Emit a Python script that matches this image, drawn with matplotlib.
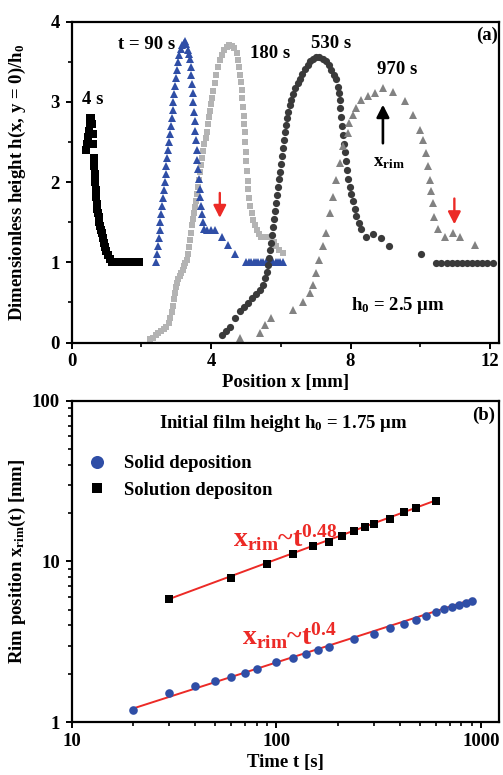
import matplotlib
matplotlib.use('Agg')
import matplotlib.pyplot as plt
from matplotlib.lines import Line2D
from matplotlib.ticker import LogLocator, NullFormatter

# ---------------- data: panel (a) ----------------
t4_x = [0.42, 0.45, 0.48, 0.50, 0.52, 0.54, 0.56, 0.58, 0.60, 0.62,
        0.63, 0.645, 0.66, 0.675, 0.69, 0.705, 0.72, 0.735, 0.75, 0.77, 0.79, 0.81,
        0.835, 0.86, 0.89, 0.92, 0.95, 0.99, 1.04, 1.10, 1.16, 1.23, 1.30, 1.37,
        1.44, 1.51, 1.58, 1.65, 1.72, 1.79, 1.86, 1.93]
t4_y = [2.40, 2.48, 2.56, 2.64, 2.72, 2.80, 2.80, 2.72, 2.60, 2.48,
        2.30, 2.20, 2.10, 2.00, 1.90, 1.81, 1.73, 1.67, 1.62, 1.56, 1.50, 1.45,
        1.40, 1.36, 1.30, 1.24, 1.19, 1.14, 1.09, 1.04, 1.01, 1.00, 1.00, 1.00,
        1.00, 1.00, 1.00, 1.00, 1.00, 1.00, 1.00, 1.00]

t90_x = [2.42, 2.445, 2.47, 2.495, 2.52, 2.545, 2.57, 2.595, 2.62, 2.645, 2.67, 2.695,
         2.72, 2.745, 2.77, 2.795, 2.82, 2.845, 2.87, 2.895, 2.92, 2.945, 2.97, 2.995,
         3.02, 3.05, 3.09, 3.13, 3.17, 3.21, 3.25,
         3.29, 3.33, 3.36, 3.39, 3.41, 3.43, 3.45, 3.47, 3.49, 3.51, 3.53, 3.55, 3.57,
         3.59, 3.61, 3.63, 3.65, 3.67, 3.69, 3.71, 3.73, 3.76, 3.80,
         3.87, 3.99, 4.11, 4.30, 4.49, 4.68,
         5.01, 5.08, 5.15, 5.22, 5.29, 5.36, 5.43, 5.50, 5.57, 5.64, 5.71, 5.78,
         5.85, 5.92, 5.99, 6.05]
t90_y = [1.00, 1.10, 1.20, 1.30, 1.40, 1.50, 1.60, 1.70, 1.80, 1.90, 2.00, 2.10,
         2.20, 2.30, 2.40, 2.50, 2.60, 2.70, 2.80, 2.90, 3.00, 3.10, 3.20, 3.30,
         3.40, 3.50, 3.59, 3.66, 3.71, 3.74, 3.76,
         3.72, 3.65, 3.60, 3.53, 3.43, 3.33, 3.22, 3.11, 3.00, 2.88, 2.76, 2.64, 2.52,
         2.40, 2.28, 2.16, 2.04, 1.92, 1.81, 1.70, 1.60, 1.50, 1.42,
         1.40, 1.40, 1.40, 1.32, 1.21, 1.11,
         1.00, 1.00, 1.00, 1.00, 1.00, 1.00, 1.00, 1.00, 1.00, 1.00, 1.00, 1.00,
         1.00, 1.00, 1.00, 1.00]

t180_x = [2.25, 2.33, 2.41, 2.49, 2.57, 2.65, 2.72, 2.78, 2.83, 2.87, 2.90, 2.93,
          2.96, 2.99, 3.02, 3.06, 3.10, 3.14, 3.18, 3.22, 3.26, 3.30, 3.33, 3.36,
          3.39, 3.42, 3.45, 3.48, 3.51, 3.54, 3.57, 3.60, 3.63, 3.66, 3.69, 3.72,
          3.75, 3.78, 3.81, 3.84, 3.87, 3.90, 3.93, 3.96, 3.99, 4.02, 4.06, 4.10,
          4.15, 4.20, 4.25, 4.31, 4.38, 4.45, 4.52,
          4.60, 4.67, 4.73, 4.77, 4.80, 4.83, 4.86, 4.88, 4.90, 4.92, 4.94, 4.955,
          4.97, 4.985, 5.00, 5.015, 5.03, 5.05, 5.07, 5.10, 5.13, 5.17, 5.21, 5.26,
          5.31, 5.37, 5.44, 5.51, 5.59, 5.66, 5.73, 5.80, 5.87, 5.96, 6.06]
t180_y = [0.04, 0.06, 0.09, 0.12, 0.14, 0.17, 0.19, 0.24, 0.30, 0.38, 0.46, 0.54,
          0.62, 0.69, 0.74, 0.79, 0.83, 0.87, 0.91, 0.95, 0.99, 1.03, 1.10, 1.19,
          1.28, 1.37, 1.46, 1.54, 1.62, 1.69, 1.76, 1.85, 1.94, 2.03, 2.12, 2.21,
          2.30, 2.39, 2.47, 2.55, 2.63, 2.72, 2.81, 2.89, 2.97, 3.05, 3.14, 3.23,
          3.33, 3.43, 3.52, 3.59, 3.65, 3.69, 3.71,
          3.70, 3.67, 3.61, 3.52, 3.43, 3.34, 3.25, 3.15, 3.05, 2.94, 2.83, 2.72,
          2.62, 2.50, 2.38, 2.26, 2.14, 2.02, 1.91, 1.80, 1.70, 1.61, 1.53, 1.46,
          1.40, 1.35, 1.32, 1.31, 1.31, 1.31, 1.31, 1.25, 1.20, 1.16, 1.12]

t530_x = [4.30, 4.42, 4.54, 4.68, 4.82, 4.94, 5.06, 5.18, 5.30, 5.40, 5.49,
          5.56, 5.61, 5.64, 5.67, 5.70, 5.73, 5.76, 5.79, 5.81, 5.83, 5.86, 5.88,
          5.91, 5.94, 5.97, 6.00, 6.03, 6.06, 6.09, 6.12, 6.15, 6.18, 6.22, 6.26,
          6.30, 6.36, 6.42, 6.48, 6.55, 6.62, 6.69, 6.77, 6.85, 6.93, 7.02, 7.11,
          7.20, 7.31, 7.39, 7.45, 7.52, 7.59, 7.63, 7.66, 7.69, 7.71, 7.74, 7.76,
          7.78, 7.81, 7.84, 7.87, 7.90, 7.94, 7.98, 8.02, 8.07, 8.12, 8.17, 8.23,
          8.31, 8.45, 8.64, 8.88, 9.10, 10.03,
          10.46, 10.61, 10.76, 10.90, 11.05, 11.20, 11.34, 11.49, 11.64, 11.78,
          11.93, 12.08]
t530_y = [0.10, 0.15, 0.20, 0.30, 0.39, 0.44, 0.49, 0.55, 0.60, 0.66, 0.72,
          0.80, 0.88, 0.97, 1.06, 1.15, 1.24, 1.34, 1.44, 1.54, 1.64, 1.74, 1.84,
          1.94, 2.04, 2.13, 2.23, 2.33, 2.43, 2.53, 2.62, 2.71, 2.80, 2.88, 2.96,
          3.03, 3.10, 3.17, 3.23, 3.29, 3.35, 3.41, 3.46, 3.51, 3.54, 3.56, 3.56,
          3.54, 3.51, 3.46, 3.40, 3.34, 3.28, 3.19, 3.11, 3.03, 2.92, 2.81, 2.70,
          2.59, 2.48, 2.37, 2.26, 2.15, 2.04, 1.94, 1.85, 1.77, 1.67, 1.58, 1.49,
          1.41, 1.32, 1.35, 1.30, 1.20, 1.11,
          0.99, 0.99, 0.99, 0.99, 0.99, 0.99, 0.99, 0.99, 0.99, 0.99,
          0.99, 0.99]

t970_x = [4.82, 5.40, 5.54, 5.73, 6.35, 6.64, 6.83, 6.92, 7.02, 7.11, 7.21, 7.31,
          7.40, 7.50, 7.59, 7.69, 7.78, 7.93, 7.97, 8.07, 8.17, 8.31, 8.50, 8.69,
          8.93, 9.21, 9.55, 9.79, 9.98, 10.07, 10.17, 10.22, 10.27, 10.32, 10.36,
          10.41, 10.50, 10.70, 10.93, 11.13, 11.56]
t970_y = [0.06, 0.12, 0.22, 0.31, 0.41, 0.51, 0.62, 0.72, 0.87, 1.03, 1.20, 1.37,
          1.62, 1.82, 2.03, 2.24, 2.45, 2.61, 2.74, 2.84, 2.92, 3.03, 3.07, 3.11,
          3.17, 3.12, 3.01, 2.84, 2.65, 2.53, 2.36, 2.20, 2.03, 1.89, 1.74,
          1.57, 1.41, 1.32, 1.37, 1.32, 1.21]

# ---------------- data: panel (b) ----------------
sol_t = [30, 60, 90, 120, 150, 180, 210, 240, 270, 300, 360, 420, 480, 600]
sol_x = [5.82, 7.88, 9.68, 11.1, 12.4, 13.3, 14.4, 15.4, 16.3, 17.1, 18.5, 20.2, 21.5, 23.8]
solid_t = [20, 30, 40, 50, 60, 70, 80, 100, 120, 140, 160, 180, 240, 300, 360,
           420, 480, 540, 600, 660, 720, 780, 840, 900]
solid_x = [1.19, 1.52, 1.67, 1.80, 1.90, 2.03, 2.16, 2.36, 2.51, 2.66, 2.82, 2.95,
           3.28, 3.54, 3.84, 4.08, 4.33, 4.60, 4.82, 5.06, 5.23, 5.38, 5.54, 5.70]
fit_sol_t = [30, 600]
fit_sol_x = [5.85, 24.0]
fit_solid_t = [20, 920]
fit_solid_x = [1.22, 5.85]

a_xticks = [0, 4, 8, 12]
a_yticks = [0, 1, 2, 3, 4]
b_xticks = [10, 100, 1000]
b_xticklabels = ['10', '100', '1000']
b_yticks = [1, 10, 100]
b_yticklabels = ['1', '10', '100']

RED = '#ec2a26'
BLUE = '#2f4ea6'
FS = 13.5

plt.rcParams.update({
    'font.family': ['Liberation Serif', 'DejaVu Serif'],
    'font.weight': 'bold',
    'axes.labelweight': 'bold',
    'font.size': FS,
    'mathtext.fontset': 'custom',
    'mathtext.rm': 'Liberation Serif:bold',
    'mathtext.bf': 'Liberation Serif:bold',
    'mathtext.it': 'Liberation Serif:bold',
    'mathtext.default': 'bf',
    'axes.linewidth': 1.6,
    'xtick.major.width': 1.4, 'ytick.major.width': 1.4,
    'xtick.minor.width': 1.2, 'ytick.minor.width': 1.2,
    'xtick.major.size': 4.5, 'ytick.major.size': 4.5,
    'xtick.minor.size': 2.8, 'ytick.minor.size': 2.8,
    'xtick.major.pad': 3, 'ytick.major.pad': 4,
})

fig = plt.figure(figsize=(5.03, 7.75), dpi=100)
axa = fig.add_axes([0.1425, 0.558, 0.8495, 0.414])
axb = fig.add_axes([0.1425, 0.068, 0.8495, 0.415])

# ---------- panel (a) ----------
axa.plot(t4_x, t4_y, 's', color='black', ms=5.2, mew=0)
axa.plot(t180_x, t180_y, 's', color='#b3b3b3', ms=5.0, mew=0)
axa.plot(t90_x, t90_y, '^', color=BLUE, ms=5.2, mew=0)
axa.plot(t530_x, t530_y, 'o', color='#3a3a3a', ms=5.2, mew=0)
axa.plot(t970_x, t970_y, '^', color='#828282', ms=5.2, mew=0)

axa.set_xlim(0, 12.26)
axa.set_ylim(0, 4)
axa.set_xticks(a_xticks)
axa.set_xticks([2, 6, 10], minor=True)
axa.set_yticks(a_yticks)
axa.set_yticks([0.5, 1.5, 2.5, 3.5], minor=True)
axa.set_xlabel('Position x [mm]', fontsize=FS, labelpad=3)
axa.set_ylabel('Dimensionless height h(x, y = 0)/h$_0$', fontsize=FS)
axa.yaxis.set_label_coords(-0.103, 0.5)

axa.text(0.60, 3.03, '4 s', ha='center', va='center', fontsize=FS)
axa.text(2.15, 3.71, 't = 90 s', ha='center', va='center', fontsize=FS)
axa.text(5.68, 3.60, '180 s', ha='center', va='center', fontsize=FS)
axa.text(7.45, 3.73, '530 s', ha='center', va='center', fontsize=FS)
axa.text(9.35, 3.40, '970 s', ha='center', va='center', fontsize=FS)
axa.text(9.35, 0.46, 'h$_0$ = 2.5 μm', ha='center', va='center', fontsize=FS)
axa.text(0.971, 0.958, '(a)', transform=axa.transAxes, ha='center', va='center', fontsize=FS)

axa.annotate('', xy=(4.25, 1.52), xytext=(4.25, 1.90),
             arrowprops=dict(arrowstyle='-|>,head_width=0.28,head_length=0.55', color=RED, lw=1.7))
axa.annotate('', xy=(10.98, 1.44), xytext=(10.98, 1.83),
             arrowprops=dict(arrowstyle='-|>,head_width=0.28,head_length=0.55', color=RED, lw=1.7))
axa.annotate('', xy=(8.93, 3.00), xytext=(8.93, 2.45),
             arrowprops=dict(arrowstyle='-|>,head_width=0.28,head_length=0.55', color='black', lw=1.9))
axa.text(9.1, 2.24, '$x_{rim}$', ha='center', va='center', fontsize=FS)

# ---------- panel (b) ----------
axb.set_xscale('log')
axb.set_yscale('log')
axb.plot(fit_sol_t, fit_sol_x, '-', color=RED, lw=1.4, zorder=2)
axb.plot(fit_solid_t, fit_solid_x, '-', color=RED, lw=1.4, zorder=2)
axb.plot(sol_t, sol_x, 's', color='black', ms=5.3, mew=0, zorder=3)
axb.plot(solid_t, solid_x, 'o', color=BLUE, ms=6.2, mew=0, zorder=3)

axb.set_xlim(10, 1220)
axb.set_ylim(1, 100)
axb.set_xticks(b_xticks)
axb.set_xticklabels(b_xticklabels)
axb.set_yticks(b_yticks)
axb.set_yticklabels(b_yticklabels)
axb.xaxis.set_minor_locator(LogLocator(base=10, subs=range(2, 10), numticks=20))
axb.yaxis.set_minor_locator(LogLocator(base=10, subs=range(2, 10), numticks=20))
axb.xaxis.set_minor_formatter(NullFormatter())
axb.yaxis.set_minor_formatter(NullFormatter())
axb.set_xlabel('Time t [s]', fontsize=FS, labelpad=3)
axb.set_ylabel('Rim position x$_{rim}$(t) [mm]', fontsize=FS)
axb.yaxis.set_label_coords(-0.103, 0.5)

axb.text(0.495, 0.93, 'Initial film height h$_0$ = 1.75 μm', transform=axb.transAxes,
         ha='center', va='center', fontsize=FS)
axb.text(0.963, 0.955, '(b)', transform=axb.transAxes, ha='center', va='center', fontsize=FS)

axb.text(61, 12.4, '$x_{rim}$~$t^{0.48}$', color=RED, fontsize=20, ha='left', va='baseline')
axb.text(68, 3.02, '$x_{rim}$~$t^{0.4}$', color=RED, fontsize=20, ha='left', va='baseline')

handles = [Line2D([], [], ls='none', marker='o', color=BLUE, ms=9.4, mew=0),
           Line2D([], [], ls='none', marker='s', color='black', ms=7.4, mew=0)]
axb.legend(handles, ['Solid deposition', 'Solution depositon'], loc='upper left',
           bbox_to_anchor=(0.016, 0.83), frameon=False, borderpad=0, borderaxespad=0,
           handletextpad=0.45, labelspacing=0.5, fontsize=FS)

for ax in (axa, axb):
    ax.tick_params(which='both', direction='out', top=False, right=False, labelsize=FS)

fig.savefig('out.png', dpi=100)
